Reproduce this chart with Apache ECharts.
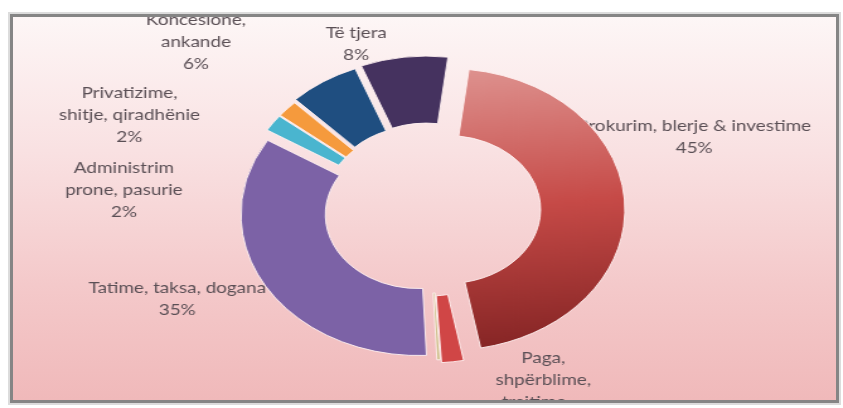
<!DOCTYPE html>
<html>
<head>
<meta charset="utf-8">
<script src="https://cdn.jsdelivr.net/npm/echarts@6/dist/echarts.min.js"></script>
<style>
html,body{margin:0;padding:0;background:#fff;width:843px;height:408px;overflow:hidden}
#frame{position:absolute;left:10px;top:14px;width:829px;height:389px;box-sizing:border-box;
  border:3px solid #858585;box-shadow:0 0 0 2px #dcdcdc;overflow:hidden;
  background:linear-gradient(to bottom,#fdf6f6 0%,#f9e1e2 35%,#f4c9ca 70%,#f0b9ba 100%)}
#chart{position:absolute;left:-13px;top:-17px;width:669px;height:408px;transform:scaleX(1.26);transform-origin:0 0}
</style>
</head>
<body>
<div id="frame"><div id="chart"></div></div>
<script>
// data (share of cases, %)
var categories = ['Prokurim, blerje & investime', 'Paga,\nshpërblime,\ntrajtime,…', 'Tjetër',
  'Tatime, taksa, dogana', 'Administrim\nprone, pasurie', 'Privatizime,\nshitje, qiradhënie',
  'Koncesione,\nankande', 'Të tjera'];
var values = [45, 2, 0.3, 34.5, 1.9, 1.9, 6.4, 7.9];

// styles
var colors = ['red', '#d04646', '#cbbd86', '#7c62a6', '#4ab5cf', '#f59a3d', '#1f4e80', '#45325f'];
var explode = [15, 12, 9, 9, 10, 10, 12, 13];
// label nudges from the default outside spot [dx, dy]
var nudge = [[25, -67], [55, 14], [0, 0], [-42, 6], [-91, 76], [-99, 16], [-78, -27], [-21, 2]];

var redFill = new echarts.graphic.LinearGradient(0, 0, 0.2, 1, [
  { offset: 0, color: '#de928f' },
  { offset: 0.5, color: '#c64a47' },
  { offset: 1, color: '#862525' }
]);

var myChart = echarts.init(document.getElementById('chart'));

// one pie per explode distance, same values so the angles line up
var groups = [];
explode.forEach(function (e) { if (groups.indexOf(e) < 0) groups.push(e); });

function makePie(off, withLabels) {
  return {
    type: 'pie',
    z: withLabels ? 1 : 2,
    center: [340, 210],
    radius: [74, 141],
    startAngle: 83,
    clockwise: true,
    percentPrecision: 0,
    selectedMode: 'multiple',
    selectedOffset: off,
    avoidLabelOverlap: false,
    animation: false,
    silent: true,
    emphasis: { disabled: true },
    label: {
      show: withLabels,
      position: 'outside',
      formatter: '{b}\n{d}%',
      fontFamily: 'Lato',
      fontSize: 15,
      lineHeight: 22,
      color: '#5a4f55'
    },
    labelLine: { show: false, length: 15, length2: 10 },
    labelLayout: function (p) {
      var n = nudge[p.dataIndex];
      return { hideOverlap: false, align: 'center', dx: n[0], dy: n[1] };
    },
    data: categories.map(function (name, i) {
      var mine = explode[i] === off;
      var paint = mine && !withLabels;
      return {
        name: name,
        value: values[i],
        selected: mine,
        itemStyle: paint ? {
          color: i === 0 ? redFill : colors[i],
          borderColor: 'rgba(255,242,242,0.9)',
          borderWidth: 1
        } : { color: 'transparent', borderWidth: 0 },
        label: { show: withLabels && mine && i !== 2 }
      };
    })
  };
}

var series = [];
groups.forEach(function (off) { series.push(makePie(off, true)); });
groups.forEach(function (off) { series.push(makePie(off, false)); });

myChart.setOption({ series: series });
</script>
</body>
</html>
